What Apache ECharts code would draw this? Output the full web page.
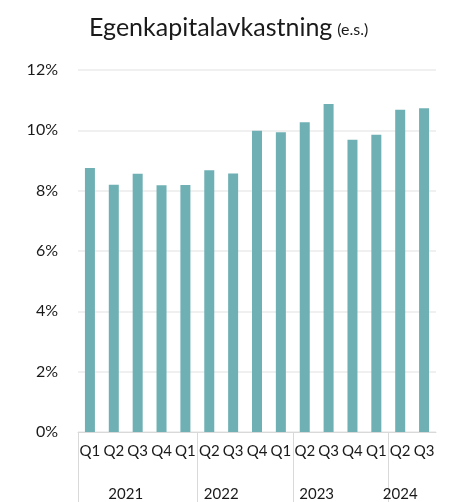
<!DOCTYPE html>
<html>
	<head>
		<meta charset="utf-8">
		<title></title>
		<script src="https://cdn.jsdelivr.net/npm/echarts@6/dist/echarts.min.js"></script>
		<style>
			html, body { margin: 0; padding: 0; background: #fff; }
			#main { width: 449px; height: 502px; }
		</style>
	</head>
	<body>
		<div id="main"></div>
		<script>
			// kvartal og år
			var quarters = ['Q1', 'Q2', 'Q3', 'Q4', 'Q1', 'Q2', 'Q3', 'Q4', 'Q1', 'Q2', 'Q3', 'Q4', 'Q1', 'Q2', 'Q3']
			var roeValues = [8.75, 8.2, 8.56, 8.18, 8.19, 8.68, 8.57, 9.99, 9.94, 10.27, 10.87, 9.69, 9.85, 10.68, 10.73]
			var years = ['2021', '2022', '2023', '2024']
			var yearLabelPos = [2, 6, 10, 13.5]   // hvor årstallene står (i kategori-enheter)
			var yearSeparators = [0, 5, 9, 13]    // skillelinjer under aksen
			var yTicks = [0, 2, 4, 6, 8, 10, 12]

			var font = 'Lato, "Open Sans", sans-serif'
			var chartDom = document.getElementById('main')
			var myChart = echarts.init(chartDom)

			var option = {
				animation: false,
				title: {
					text: '{a|Egenkapitalavkastning} {b|(e.s.)}',
					left: 84,
					top: 10,
					textStyle: {
						fontWeight: 'normal',
						rich: {
							a: { fontFamily: font, fontSize: 25, fontWeight: 'normal', color: '#1a1a1a' },
							b: { fontFamily: font, fontSize: 16, fontWeight: 'normal', color: '#1a1a1a', padding: [5, 0, 0, 0] }
						}
					}
				},
				grid: { left: 78, right: 13, top: 70, bottom: 69 },
				xAxis: [{
					type: 'category',
					data: quarters,
					axisLine: { lineStyle: { color: '#d9d9d9', width: 1 } },
					axisTick: { show: false },
					axisLabel: { interval: 0, color: '#1a1a1a', fontFamily: font, fontSize: 15, margin: 12 }
				}, {
					type: 'value',
					position: 'bottom',
					min: 0,
					max: quarters.length,
					axisLine: { show: false },
					splitLine: { show: false },
					axisTick: {
						show: true,
						customValues: yearSeparators,
						length: 75,
						lineStyle: { color: '#d9d9d9', width: 1 }
					},
					axisLabel: {
						customValues: yearLabelPos,
						formatter: function (v) {
							var i = yearLabelPos.indexOf(v)
							return i >= 0 ? years[i] : ''
						},
						color: '#1a1a1a',
						fontFamily: font,
						fontSize: 15,
						margin: 55
					}
				}],
				yAxis: {
					type: 'value',
					min: yTicks[0],
					max: yTicks[yTicks.length - 1],
					interval: 2,
					axisLine: { show: false },
					axisTick: { show: false },
					splitLine: { lineStyle: { color: '#ebebeb', width: 1.5 } },
					axisLabel: {
						formatter: '{value}%',
						color: '#1a1a1a',
						fontFamily: font,
						fontSize: 16,
						margin: 20
					}
				},
				series: [{
					type: 'bar',
					xAxisIndex: 0,
					data: roeValues,
					barWidth: 10,
					itemStyle: { color: '#6fb0b4' }
				}]
			}
			myChart.setOption(option)
		</script>
	</body>
</html>
